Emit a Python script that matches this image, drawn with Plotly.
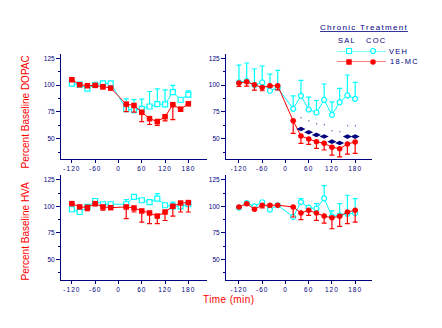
import plotly.graph_objects as go

# Sampling times (min) relative to treatment
times = [-120, -100, -80, -60, -40, -20, 20, 40, 60, 80, 100, 120, 140, 160, 180]

# DOPAC, chronic saline (SAL)
dopac_sal_veh = [101.3, 100.5, 96.6, 100.3, 101.6, 101.6, 77.5, 76.5, 77.8, 80.0, 82.2, 82.0, 93.5, 86.3, 91.0]
dopac_sal_veh_err = [1.0, 0.5, 1.0, 1.0, 0.5, 0.5, 9.7, 10.0, 9.0, 14.0, 14.3, 13.5, 6.2, 1.7, 3.5]
dopac_sal_mc = [105.0, 100.3, 99.4, 99.7, 98.5, 97.2, 82.2, 81.0, 74.6, 68.7, 66.0, 70.5, 81.7, 77.5, 82.5]
dopac_sal_mc_err = [1.0, 1.0, 1.5, 1.0, 2.0, 1.5, 6.9, 6.3, 8.7, 5.5, 3.6, 3.9, 14.0, 2.0, 1.5]

# DOPAC, chronic cocaine (COC)
dopac_coc_veh = [102.5, 103.7, 100.0, 102.5, 94.7, 97.5, 77.8, 90.0, 77.2, 74.4, 86.2, 72.2, 84.0, 90.3, 87.2]
dopac_coc_veh_err = [16.2, 16.9, 15.0, 15.3, 15.6, 16.2, 12.2, 14.4, 11.5, 11.2, 14.8, 12.2, 12.9, 19.1, 15.3]
dopac_coc_mc = [101.9, 103.0, 100.3, 97.8, 99.4, 99.4, 66.6, 52.5, 49.7, 47.2, 45.6, 41.9, 40.6, 45.0, 46.9]
dopac_coc_mc_err = [3.2, 4.0, 5.0, 3.1, 1.5, 3.8, 11.6, 6.9, 5.0, 6.2, 6.2, 7.2, 7.6, 9.4, 10.6]
dopac_coc_sig = [None, None, None, None, None, None, None, 59.0, 56.0, 53.5, 52.0, 47.2, 45.9, 51.9, 51.9]

# HVA, chronic saline (SAL)
hva_sal_veh = [97.2, 94.6, 99.4, 105.0, 101.9, 101.9, 101.9, 108.8, 105.7, 104.0, 107.3, 101.0, 100.0, 100.0, 101.9]
hva_sal_veh_err = [0.5, 0.5, 1.0, 1.5, 0.5, 0.5, 4.4, 1.5, 0.5, 1.0, 4.7, 0.5, 4.0, 1.0, 2.8]
hva_sal_mc = [102.5, 99.4, 99.0, 102.5, 99.4, 98.7, 99.4, 98.4, 95.6, 93.7, 90.8, 94.6, 100.0, 103.1, 103.5]
hva_sal_mc_err = [0.5, 0.5, 3.0, 2.0, 3.0, 0.5, 11.0, 3.8, 10.5, 10.0, 7.2, 8.0, 9.2, 8.5, 8.9]

# HVA, chronic cocaine (COC)
hva_coc_veh = [98.7, 103.1, 100.0, 103.8, 96.9, 101.0, 90.0, 104.0, 98.7, 97.8, 107.5, 90.5, 91.5, 93.0, 93.7]
hva_coc_veh_err = [0.5, 1.0, 0.5, 1.0, 0.5, 1.0, 0.5, 3.3, 1.5, 4.7, 12.0, 5.1, 11.0, 17.4, 13.6]
hva_coc_mc = [99.4, 102.5, 97.2, 101.0, 101.0, 101.0, 99.4, 93.7, 96.2, 93.7, 90.8, 89.2, 90.5, 94.6, 96.2]
hva_coc_mc_err = [0.5, 1.0, 1.0, 2.5, 1.5, 1.0, 9.5, 6.3, 4.7, 7.0, 6.6, 10.4, 9.5, 11.0, 11.1]

y_ticks = [50, 75, 100, 125]
y_minor = [37.5, 62.5, 87.5, 112.5]
x_ticks = [-120, -60, 0, 60, 120, 180]

NAVY = "#000080"
CYAN = "#00ffff"
RED = "#ff0000"
FONT = "Liberation Sans"
W, H = 442, 328


def spaced(s, px):
    return f'<span style="letter-spacing:{px}px">{s}</span>'


def px_x(p):
    return p / W


def px_y(p):
    return 1 - p / H


fig = go.Figure()

# panel axes: (xaxis, yaxis, x-pixel span, y-pixel span, x range, y range)
panels = {
    "tl": ("x", "y", (61, 207), (54, 159), [-148, 228], [31, 129]),
    "tr": ("x2", "y2", (226, 372), (54, 159), [-153.5, 223.5], [31, 129]),
    "bl": ("x3", "y3", (61, 207), (175, 280), [-148, 228], [30.5, 129.5]),
    "br": ("x4", "y4", (226, 372), (175, 280), [-153.5, 223.5], [30.5, 129.5]),
}


def add_pair(panel, veh, veh_err, mc, mc_err, symbol):
    xa, ya = panels[panel][0], panels[panel][1]
    fig.add_trace(go.Scatter(
        x=times, y=veh, xaxis=xa, yaxis=ya, mode="lines+markers",
        line=dict(color=CYAN, width=1),
        marker=dict(symbol=symbol, size=5, color="white", line=dict(color=CYAN, width=1.2)),
        error_y=dict(type="data", symmetric=False, array=veh_err,
                     arrayminus=[0] * len(veh_err), color=CYAN, thickness=1.2, width=2.5),
        showlegend=False, cliponaxis=False))
    fig.add_trace(go.Scatter(
        x=times, y=mc, xaxis=xa, yaxis=ya, mode="lines+markers",
        line=dict(color=RED, width=1),
        marker=dict(symbol=symbol, size=5.5, color=RED, line=dict(width=0)),
        error_y=dict(type="data", symmetric=False, array=[0] * len(mc_err),
                     arrayminus=mc_err, color=RED, thickness=1.2, width=2.5),
        showlegend=False, cliponaxis=False))


add_pair("tl", dopac_sal_veh, dopac_sal_veh_err, dopac_sal_mc, dopac_sal_mc_err, "square")
add_pair("tr", dopac_coc_veh, dopac_coc_veh_err, dopac_coc_mc, dopac_coc_mc_err, "circle")
add_pair("bl", hva_sal_veh, hva_sal_veh_err, hva_sal_mc, hva_sal_mc_err, "square")
add_pair("br", hva_coc_veh, hva_coc_veh_err, hva_coc_mc, hva_coc_mc_err, "circle")

# significance markers over the 18-MC curve (COC, DOPAC)
fig.add_trace(go.Scatter(
    x=times, y=dopac_coc_sig, xaxis="x2", yaxis="y2", mode="markers+text",
    marker=dict(symbol="diamond-wide", size=6.5, color=NAVY),
    text=["'" if v is not None else "" for v in dopac_coc_sig],
    textposition="top center", textfont=dict(family=FONT, size=8, color=NAVY),
    showlegend=False, cliponaxis=False))

layout = dict(
    width=W, height=H, margin=dict(l=0, r=0, t=0, b=0),
    paper_bgcolor="white", plot_bgcolor="white", showlegend=False,
    font=dict(family=FONT, color=NAVY),
)

for key, (xa, ya, (x0, x1), (y0, y1), xr, yr) in panels.items():
    xname = "xaxis" + xa[1:]
    yname = "yaxis" + ya[1:]
    layout[xname] = dict(
        domain=[px_x(x0), px_x(x1)], range=xr, anchor=ya,
        showline=True, linecolor=NAVY, linewidth=1, showgrid=False, zeroline=False,
        ticks="outside", ticklen=3, tickwidth=1, tickcolor=NAVY,
        tickvals=x_ticks, ticktext=[spaced(str(v), 1) for v in x_ticks],
        tickfont=dict(family=FONT, size=6.5, color=NAVY),
    )
    layout[yname] = dict(
        domain=[px_y(y1), px_y(y0)], range=yr, anchor=xa,
        showline=True, linecolor=NAVY, linewidth=1, showgrid=False, zeroline=False,
        ticks="outside", ticklen=4, tickwidth=1, tickcolor=NAVY,
        tickvals=y_ticks, tickfont=dict(family=FONT, size=6.5, color=NAVY),
        minor=dict(tickvals=y_minor, ticklen=2, tickwidth=1, tickcolor=NAVY, ticks="outside"),
    )

# legend sample strip
layout["xaxis5"] = dict(domain=[px_x(337), px_x(386)], range=[0, 1], visible=False, anchor="y5")
layout["yaxis5"] = dict(domain=[px_y(62), px_y(51)], range=[0, 1], visible=False, anchor="x5")

legend_x = [0, 0.245, 0.735, 1]
fig.add_trace(go.Scatter(x=legend_x, y=[1] * 4, xaxis="x5", yaxis="y5", mode="lines",
                         line=dict(color=CYAN, width=1), showlegend=False, cliponaxis=False))
fig.add_trace(go.Scatter(x=legend_x[1:3], y=[1, 1], xaxis="x5", yaxis="y5", mode="markers",
                         marker=dict(symbol=["square", "circle"], size=5, color="white",
                                     line=dict(color=CYAN, width=1.2)),
                         showlegend=False, cliponaxis=False))
fig.add_trace(go.Scatter(x=legend_x, y=[0] * 4, xaxis="x5", yaxis="y5", mode="lines",
                         line=dict(color=RED, width=1), showlegend=False, cliponaxis=False))
fig.add_trace(go.Scatter(x=legend_x[1:3], y=[0, 0], xaxis="x5", yaxis="y5", mode="markers",
                         marker=dict(symbol=["square", "circle"], size=5.5, color=RED),
                         showlegend=False, cliponaxis=False))

annotations = [
    dict(text=spaced("<u>Chronic Treatment</u>", 1.3), x=px_x(363.5), y=px_y(28),
         font=dict(family=FONT, size=8, color=NAVY)),
    dict(text=spaced("SAL", 1.3), x=px_x(347), y=px_y(40), font=dict(family=FONT, size=7.5, color=NAVY)),
    dict(text=spaced("COC", 1.3), x=px_x(376.5), y=px_y(40), font=dict(family=FONT, size=7.5, color=NAVY)),
    dict(text=spaced("VEH", 1.3), x=px_x(387), y=px_y(51), xanchor="left",
         font=dict(family=FONT, size=7.5, color=NAVY)),
    dict(text=spaced("18-MC", 1.3), x=px_x(387.5), y=px_y(62), xanchor="left",
         font=dict(family=FONT, size=7.5, color=NAVY)),
    dict(text="Percent Baseline DOPAC", x=px_x(24.5), y=px_y(112), textangle=-90,
         font=dict(family=FONT, size=10, color=RED)),
    dict(text="Percent Baseline HVA", x=px_x(24.5), y=px_y(231), textangle=-90,
         font=dict(family=FONT, size=10, color=RED)),
    dict(text=spaced("Time (min)", 0.4), x=px_x(228), y=px_y(299),
         font=dict(family=FONT, size=10, color=RED)),
]
for a in annotations:
    a.setdefault("xanchor", "center")
    a.setdefault("yanchor", "middle")
    a.update(xref="paper", yref="paper", showarrow=False)
layout["annotations"] = annotations

fig.update_layout(**layout)
fig.write_html("out.html")
